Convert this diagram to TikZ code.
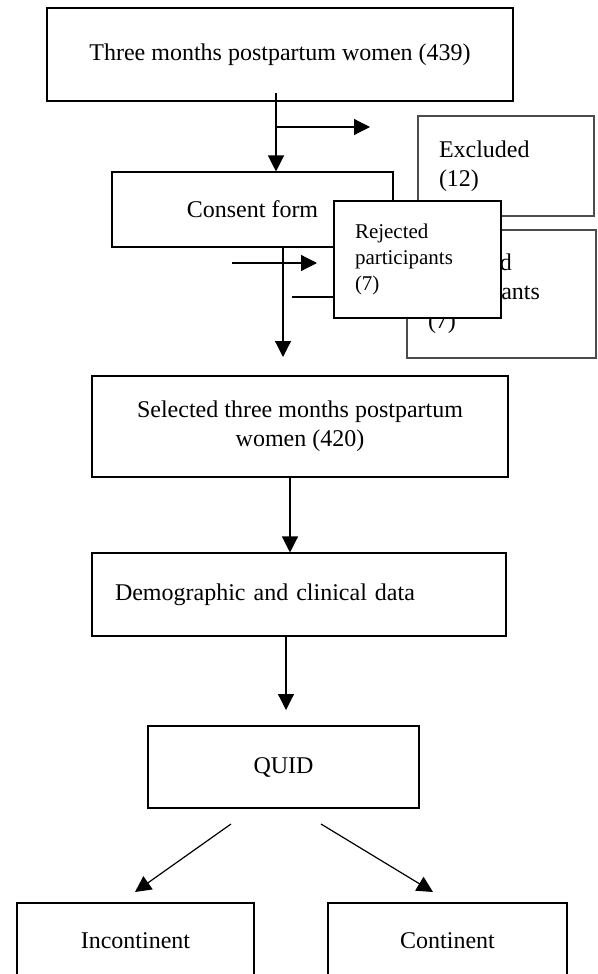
\documentclass[tikz,border=0pt]{standalone}
\usepackage{fontspec}
\setmainfont{Liberation Serif}
\usetikzlibrary{arrows.meta}

\begin{document}
\begin{tikzpicture}[x=0.75pt, y=-0.75pt,
    box/.style={draw, line width=0.8pt, inner sep=0pt, font=\fontsize{18}{21.75}\selectfont},
    sidebox/.style={box, draw=black!70, align=left, inner xsep=15.75pt},
    arr/.style={-{Triangle[length=12pt,width=12pt]}, line width=0.9pt}]
    \useasboundingbox (0,0) rectangle (598,974);

    \node[box, minimum width=349.5pt, minimum height=69.75pt] (women) at (280,54.5) {Three months postpartum women (439)};
    \node[box, minimum width=210.75pt, minimum height=56.25pt] (consent) at (252.5,209.5) {Consent form};
    \node[sidebox, text width=100.5pt, minimum height=75pt] (excluded) at (506,166) {Excluded\\(12)};
    \node[sidebox, text width=110.25pt, minimum height=96pt] (rejback) at (501.5,294) {Rejected\\participants\\(7)};

    \coordinate (a1) at (276,93);
    \coordinate (b1) at (276,127);
    \coordinate (b1e) at (370,127);
    \coordinate (a2) at (283,357);
    \coordinate (b2) at (232,263);
    \coordinate (b2e) at (317,263);
    \coordinate (l1) at (292,297);
    \coordinate (l1e) at (334,297);

    \draw[arr] (a1) -- (a1 |- consent.north);
    \draw[arr] (b1) -- (b1e);
    \draw[arr] (a2 |- consent.south) -- (a2);
    \draw[arr] (b2) -- (b2e);
    \draw[line width=0.8pt] (l1) -- (l1e);

    % front box hides the line and the box behind it
    \node[box, fill=white, align=left, inner xsep=15.75pt, text width=93.75pt, minimum height=87.75pt,
        font=\fontsize{15.75}{19.5}\selectfont] (rejfront) at (417.5,259.5) {Rejected\\participants\\(7)};

    \node[box, align=center, minimum width=312pt, minimum height=75.75pt] (selected) at (300,426.5) {Selected three months postpartum\\women (420)};
    \node[box, align=left, inner xsep=17.25pt, text width=276pt, minimum height=62.25pt] (clinical) at (299,594.5) {Demographic and clinical data};
    \node[box, minimum width=203.25pt, minimum height=61.5pt] (quid) at (283.5,767) {QUID};
    \node[box, minimum width=177.75pt, minimum height=57pt] (incont) at (135.5,941) {Incontinent};
    \node[box, minimum width=179.25pt, minimum height=57pt] (cont) at (447.5,941) {Continent};

    \coordinate (a3) at (290,477);
    \coordinate (a4) at (286,710);
    \draw[arr] (a3) -- (a3 |- clinical.north);
    \draw[arr] (a4 |- clinical.south) -- (a4);

    \foreach \s/\e in {231/135, 321/433} {
        \draw[arr] (\s,824) -- (\e,892);
    }
\end{tikzpicture}
\end{document}
